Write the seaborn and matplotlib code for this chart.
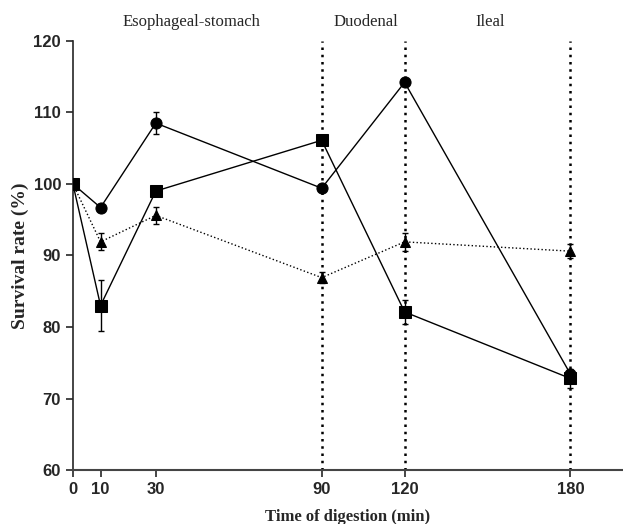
import numpy as np
import pandas as pd
import seaborn as sns
import matplotlib.pyplot as plt

## Data
times = [0, 10, 30, 90, 120, 180]
circle_vals = [100, 96.7, 108.5, 99.4, 114.2, 73.4]
circle_err = [0, 0.3, 1.5, 0.3, 0.4, 0.6]
square_vals = [100, 83.0, 99.0, 106.1, 82.1, 72.8]
square_err = [0, 3.5, 0.3, 0.3, 1.7, 1.3]
triangle_vals = [100, 91.9, 95.6, 86.9, 91.9, 90.6]
triangle_err = [0, 1.2, 1.2, 0.8, 1.3, 1.0]
phase_lines = [90, 120, 180]
phase_labels = ["Esophageal-stomach", "Duodenal", "Ileal"]
phase_label_x = [43, 106, 151]

## Plot
sns.set_style("ticks")
fig = plt.figure(figsize=(6.23, 5.24), dpi=100)
ax = fig.add_axes([0.117, 0.103, 0.883, 0.819])

series = [
    (circle_vals, circle_err, "o", "-", 8),
    (square_vals, square_err, "s", "-", 8),
    (triangle_vals, triangle_err, "^", ":", 7.5),
]
for vals, err, mk, ls, ms in series:
    df = pd.DataFrame({"time": times, "rate": vals})
    ax.errorbar(times, vals, yerr=err, fmt="none", ecolor="black", elinewidth=1, capsize=2.5, zorder=2)
    sns.lineplot(df, x="time", y="rate", marker=mk, markersize=ms, color="black",
                 linestyle=ls, linewidth=1, markeredgecolor="black", ax=ax, zorder=3)

# Phase separators
for xv in phase_lines:
    ax.axvline(xv, color="black", linestyle=(0, (1, 1.9)), linewidth=1.8, zorder=1)

# Phase labels
for lab, xv in zip(phase_labels, phase_label_x):
    ax.text(xv, 122.7, lab, ha="center", va="center", fontsize=12, family="Liberation Serif",
            clip_on=False)

ax.set_xlim(0, 199)
ax.set_ylim(60, 120)
ax.set_xticks(times)
ax.set_yticks(np.arange(60, 121, 10))
for t in ax.get_xticklabels() + ax.get_yticklabels():
    t.set_family("Liberation Sans")
    t.set_fontweight("bold")
    t.set_fontsize(12)
ax.tick_params(width=1.2, length=5)
ax.set_xlabel("Time of digestion (min)", family="Liberation Serif", fontweight="bold", fontsize=12, labelpad=9)
ax.set_ylabel("Survival rate (%)", family="Liberation Serif", fontweight="bold", fontsize=14, labelpad=3)
sns.despine(ax=ax)
ax.spines["left"].set_linewidth(1.2)
ax.spines["bottom"].set_linewidth(1.5)
ax.spines["bottom"].set_color("#444444")

## Save
plt.savefig("out.png", dpi=100)
